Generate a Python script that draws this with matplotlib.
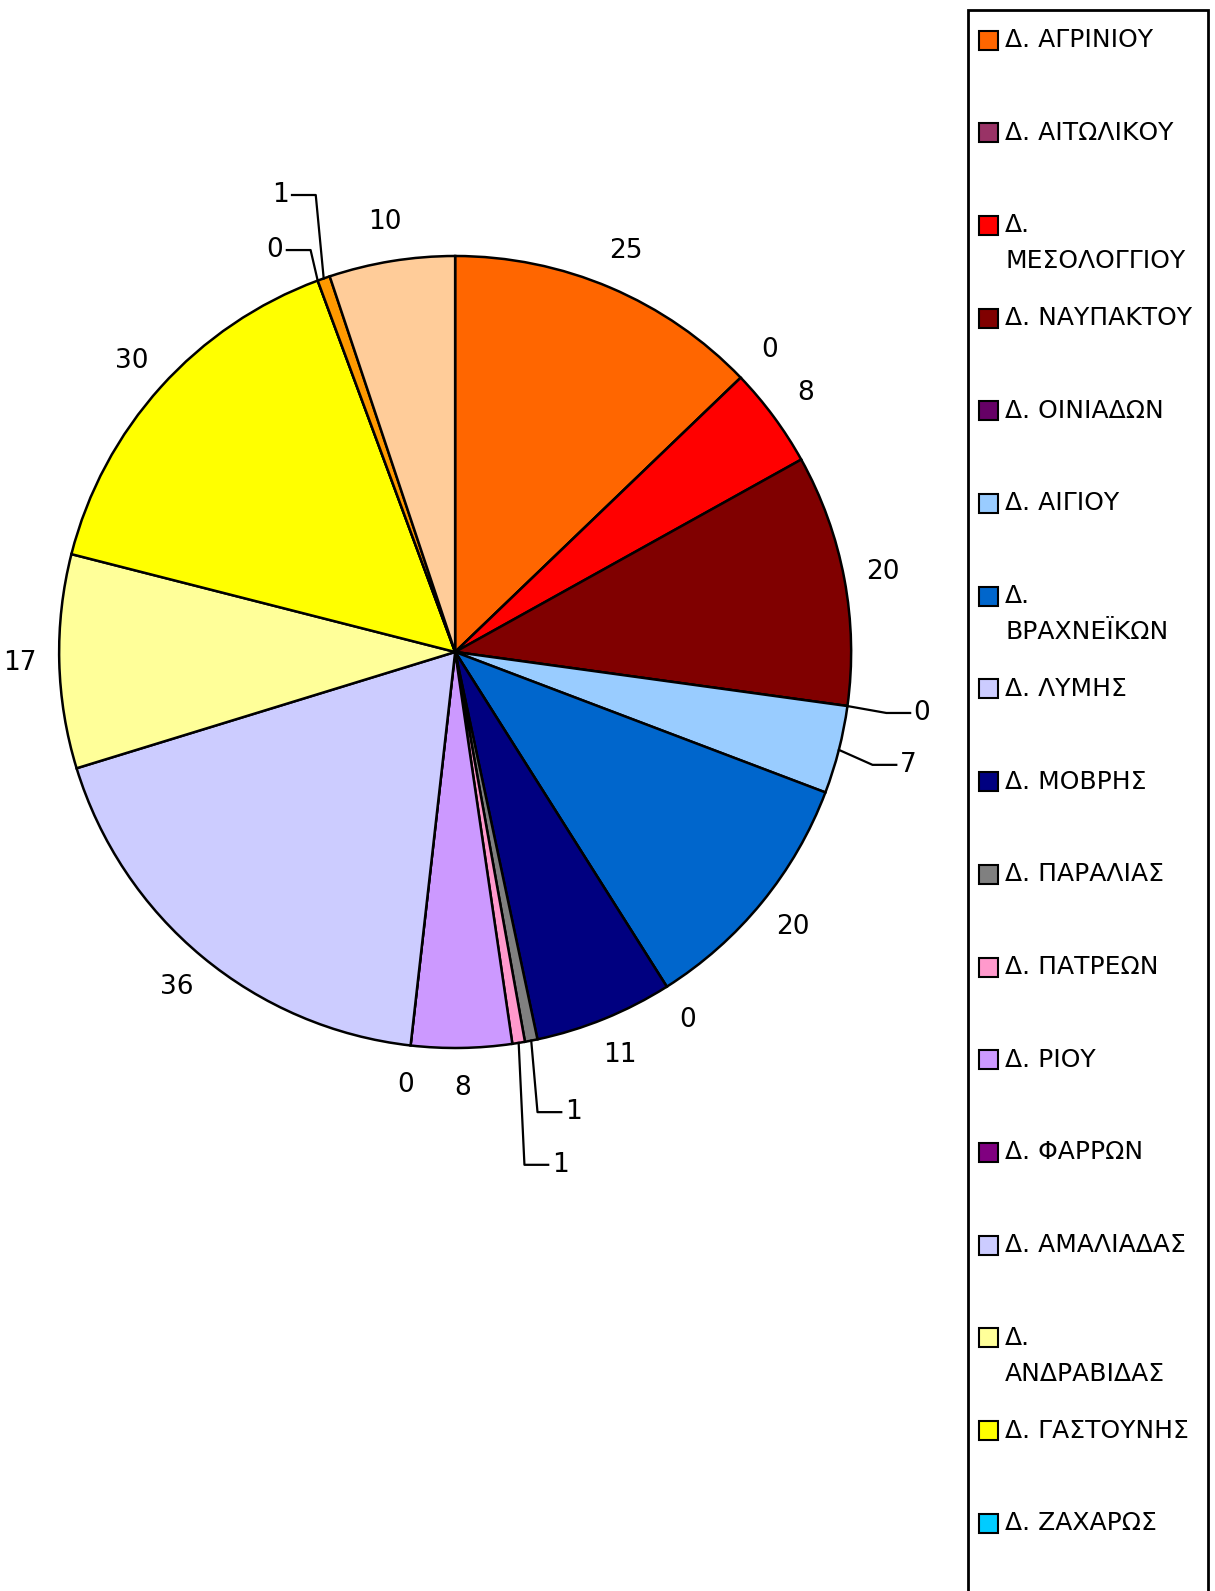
import numpy as np
import matplotlib.pyplot as plt
from matplotlib.patches import Rectangle

plt.rcParams['font.family'] = ['DejaVu Sans']

# municipalities (legend order = pie order, clockwise from 12 o'clock)
names = ['Δ. ΑΓΡΙΝΙΟΥ', 'Δ. ΑΙΤΩΛΙΚΟΥ', 'Δ.\nΜΕΣΟΛΟΓΓΙΟΥ', 'Δ. ΝΑΥΠΑΚΤΟΥ',
         'Δ. ΟΙΝΙΑΔΩΝ', 'Δ. ΑΙΓΙΟΥ', 'Δ.\nΒΡΑΧΝΕΪΚΩΝ', 'Δ. ΛΥΜΗΣ',
         'Δ. ΜΟΒΡΗΣ', 'Δ. ΠΑΡΑΛΙΑΣ', 'Δ. ΠΑΤΡΕΩΝ', 'Δ. ΡΙΟΥ',
         'Δ. ΦΑΡΡΩΝ', 'Δ. ΑΜΑΛΙΑΔΑΣ', 'Δ.\nΑΝΔΡΑΒΙΔΑΣ', 'Δ. ΓΑΣΤΟΥΝΗΣ',
         'Δ. ΖΑΧΑΡΩΣ', 'Δ. ΠΗΝΕΙΑΣ', 'Δ. ΠΥΡΓΟΥ']
values = [25, 0, 8, 20, 0, 7, 20, 0, 11, 1, 1, 8, 0, 36, 17, 30, 0, 1, 10]
colors = ['#FF6600', '#993366', '#FF0000', '#800000', '#660066', '#99CCFF',
          '#0066CC', '#CCCCFF', '#000080', '#808080', '#FF99CC', '#CC99FF',
          '#800080', '#CCCCFF', '#FFFF99', '#FFFF00', '#00CCFF', '#FF9900',
          '#FFCC99']

# labels that sit away from the pie with a leader line (text centre, data units)
leader_pos = {4: (1.179, -0.154), 5: (1.144, -0.285), 9: (0.298, -1.162),
              10: (0.265, -1.295), 16: (-0.455, 1.015), 17: (-0.442, 1.154)}

W, H = 1215, 1591
fig = plt.figure(figsize=(W / 100, H / 100), dpi=100)
ax = fig.add_axes([0.0486, 0.3413, 0.652, 0.4978])

wedges, _ = ax.pie(values, colors=colors, startangle=90, counterclock=False,
                   radius=1, wedgeprops=dict(edgecolor='black', linewidth=1.8))
for w in wedges:
    w.set_clip_on(False)
ax.set_xlim(-1, 1)
ax.set_ylim(-1, 1)
ax.axis('off')

for i, (w, v) in enumerate(zip(wedges, values)):
    mid = np.deg2rad((w.theta1 + w.theta2) / 2)
    ex, ey = np.cos(mid), np.sin(mid)
    if i in leader_pos:
        tx, ty = leader_pos[i]
        side = 1 if tx > ex else -1
        ax.plot([ex, tx - side * 0.09, tx - side * 0.03], [ey, ty, ty],
                color='black', lw=1.6, clip_on=False)
    else:
        tx, ty = 1.10 * ex, 1.10 * ey
    ax.text(tx, ty, str(v), ha='center', va='center', fontsize=19,
            clip_on=False)

# legend box (runs off the bottom of the picture, as in the original)
fig.patches.append(Rectangle((968 / W, -0.05), 240 / W, 1 - 10 / H + 0.05,
                             transform=fig.transFigure, facecolor='none',
                             edgecolor='black', linewidth=2))
for i, (name, c) in enumerate(zip(names, colors)):
    cy = 40 + i * 92.7
    if cy > H - 20:
        break  # the rest of the legend falls below the picture
    fig.patches.append(Rectangle((979 / W, 1 - (cy + 9.5) / H), 19 / W, 19 / H,
                                 transform=fig.transFigure, facecolor=c,
                                 edgecolor='black', linewidth=1.5))
    for k, line in enumerate(name.split('\n')):
        fig.text(1005 / W, 1 - (cy + k * 36) / H, line, ha='left',
                 va='center', fontsize=18)

fig.savefig('out.png', dpi=100)
